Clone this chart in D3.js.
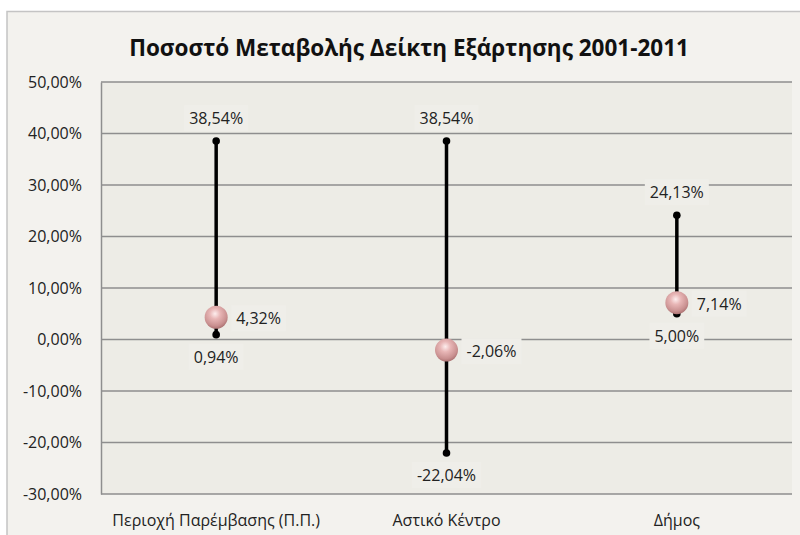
<!DOCTYPE html>
<html>
<head>
<meta charset="utf-8">
<script src="https://cdn.jsdelivr.net/npm/d3@7"></script>
<style>
  body { margin: 0; background: #fff; }
  svg { display: block; }
</style>
</head>
<body>
<div id="chart"></div>
<script>
'use strict';

// data
const categories = ["Περιοχή Παρέμβασης (Π.Π.)", "Αστικό Κέντρο", "Δήμος"];
const highValues = [38.54, 38.54, 24.13];
const lowValues = [0.94, -22.04, 5.00];
const closeValues = [4.32, -2.06, 7.14];
const yTicks = [-30, -20, -10, 0, 10, 20, 30, 40, 50];
const title = "Ποσοστό Μεταβολής Δείκτη Εξάρτησης 2001-2011";

const W = 800, H = 535;
const margin = { top: 82, left: 101, right: 8, bottom: 41 };
const font = "'Open Sans', 'Noto Sans', sans-serif";

const fmt = v => v.toFixed(2).replace(".", ",") + "%";

const svg = d3.select("#chart")
    .append("svg")
    .attr("width", W)
    .attr("height", H);

// chart background + border
svg.append("rect")
    .attr("x", 7).attr("y", 11.5)
    .attr("width", W).attr("height", H)
    .attr("fill", "#f3f2ee")
    .attr("stroke", "#c4c4c4")
    .attr("stroke-width", 1.5);

const x = d3.scaleBand()
    .domain(categories)
    .range([margin.left, W - margin.right]);

const y = d3.scaleLinear()
    .domain([-30, 50])
    .range([H - margin.bottom, margin.top]);

// plot area
svg.append("rect")
    .attr("x", margin.left)
    .attr("y", margin.top)
    .attr("width", W - margin.right - margin.left)
    .attr("height", y(-30) - y(50))
    .attr("fill", "#edece6");

// gridlines
svg.append("g")
    .selectAll("line")
    .data(yTicks)
    .enter()
    .append("line")
    .attr("x1", margin.left)
    .attr("x2", W - margin.right)
    .attr("y1", d => y(d))
    .attr("y2", d => y(d))
    .attr("stroke", "#8e8e8e")
    .attr("stroke-width", 1.5);

// y axis
const yAxis = svg.append("g")
    .attr("transform", "translate(" + margin.left + ",0)")
    .call(d3.axisLeft(y).tickValues(yTicks).tickFormat(fmt).tickSize(0).tickPadding(19));
yAxis.select(".domain").attr("stroke", "#8e8e8e").attr("stroke-width", 1.5);
yAxis.selectAll("text")
    .attr("font-family", font)
    .attr("font-size", "16px")
    .attr("fill", "#222");

// x axis labels
svg.append("g")
    .selectAll("text")
    .data(categories)
    .enter()
    .append("text")
    .text(d => d)
    .attr("x", d => x(d) + x.bandwidth() / 2)
    .attr("y", 526)
    .attr("text-anchor", "middle")
    .attr("font-family", font)
    .attr("font-size", "16px")
    .attr("fill", "#222");

// title
svg.append("text")
    .text(title)
    .attr("x", 409)
    .attr("y", 56)
    .attr("text-anchor", "middle")
    .attr("font-family", font)
    .attr("font-weight", "bold")
    .attr("font-size", "22.5px")
    .attr("fill", "#111");

// sphere gradient
const defs = svg.append("defs");
const grad = defs.append("radialGradient")
    .attr("id", "sphere")
    .attr("cx", "45%").attr("cy", "35%").attr("r", "65%");
grad.append("stop").attr("offset", "0%").attr("stop-color", "#fdeeee");
grad.append("stop").attr("offset", "35%").attr("stop-color", "#e8b6b6");
grad.append("stop").attr("offset", "80%").attr("stop-color", "#c99090");
grad.append("stop").attr("offset", "100%").attr("stop-color", "#ad7373");

const cx = i => x(categories[i]) + x.bandwidth() / 2;
const idx = d3.range(categories.length);

// high-low lines
const g = svg.append("g");
g.selectAll("line.hl")
    .data(idx)
    .enter()
    .append("line")
    .attr("class", "hl")
    .attr("x1", cx).attr("x2", cx)
    .attr("y1", i => y(highValues[i]))
    .attr("y2", i => y(lowValues[i]))
    .attr("stroke", "#000")
    .attr("stroke-width", 3.5);

g.selectAll("circle.hi")
    .data(idx)
    .enter()
    .append("circle")
    .attr("cx", cx)
    .attr("cy", i => y(highValues[i]))
    .attr("r", 3.8)
    .attr("fill", "#000");

g.selectAll("circle.lo")
    .data(idx)
    .enter()
    .append("circle")
    .attr("cx", cx)
    .attr("cy", i => y(lowValues[i]))
    .attr("r", 3.8)
    .attr("fill", "#000");

g.selectAll("circle.close")
    .data(idx)
    .enter()
    .append("circle")
    .attr("cx", cx)
    .attr("cy", i => y(closeValues[i]))
    .attr("r", 11.5)
    .attr("fill", "url(#sphere)");

// data labels with light box
function label(textX, textY, str, anchor) {
    const t = svg.append("text")
        .text(str)
        .attr("x", textX)
        .attr("y", textY)
        .attr("text-anchor", anchor)
        .attr("dominant-baseline", "central")
        .attr("font-family", font)
        .attr("font-size", "16px")
        .attr("fill", "#222");
    const b = t.node().getBBox();
    svg.insert("rect", function() { return t.node(); })
        .attr("x", b.x - 5).attr("y", b.y - 2)
        .attr("width", b.width + 10).attr("height", b.height + 4)
        .attr("fill", "#efeee9");
}

idx.forEach(i => {
    label(cx(i), y(highValues[i]) - 23, fmt(highValues[i]), "middle");
    label(cx(i), y(lowValues[i]) + 22, fmt(lowValues[i]), "middle");
    label(cx(i) + 20, y(closeValues[i]) + 1, fmt(closeValues[i]), "start");
});
</script>
</body>
</html>
